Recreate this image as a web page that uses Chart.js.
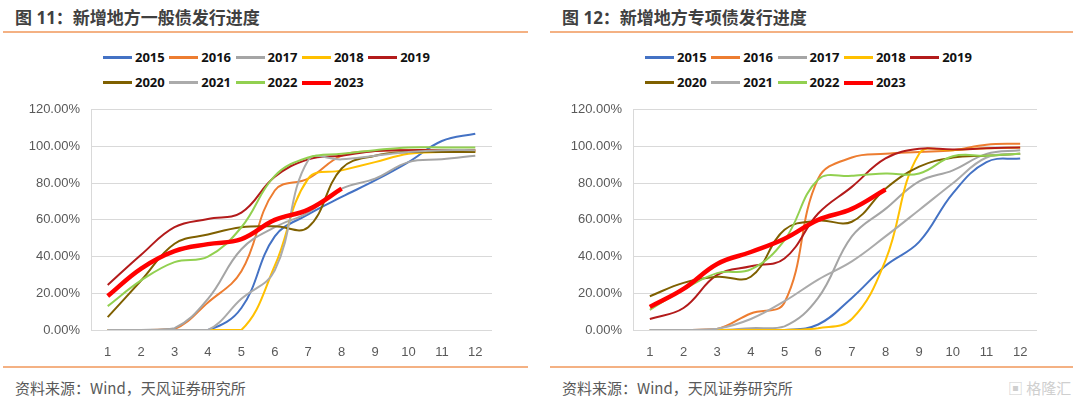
<!DOCTYPE html>
<html>
<head>
<meta charset="utf-8">
<script src="https://cdn.jsdelivr.net/npm/chart.js@4/dist/chart.umd.min.js"></script>
<style>
    body { margin: 0; width: 1080px; height: 399px; background: #fff; position: relative; overflow: hidden; font-family: "Open Sans", "Noto Sans CJK SC", sans-serif; }
    .title { position: absolute; top: 4px; font-size: 17px; font-weight: bold; color: #404040; white-space: nowrap; }
    .rule { position: absolute; height: 2px; background: #F4B183; }
    .src { position: absolute; top: 377px; font-size: 15px; color: #595959; white-space: nowrap; font-family: "Noto Sans CJK SC", sans-serif; }
    .legend { position: absolute; top: 45px; width: 340px; display: flex; flex-wrap: wrap; }
    .legend .item { display: flex; align-items: center; width: 66.3px; height: 25px; }
    .legend .swatch { display: inline-block; width: 29px; margin-right: 3px; }
    .legend .label { font-size: 13px; font-weight: bold; color: #111; line-height: 25px; }
    canvas { position: absolute; }
    .mark { position: absolute; left: 1008px; top: 377px; font-size: 15px; color: #cfcfcf; font-family: "Noto Sans CJK SC", sans-serif; }
</style>
</head>
<body>
<div class="title" style="left:15px">图 11：新增地方一般债发行进度</div>
<div class="title" style="left:562px">图 12：新增地方专项债发行进度</div>
<div class="rule" style="left:3px;width:525px;top:31px"></div>
<div class="rule" style="left:550px;width:523px;top:31px"></div>
<div class="legend" id="legendGen" style="left:103px"></div>
<div class="legend" id="legendSpe" style="left:645px"></div>
<canvas id="chartGen" width="520" height="269" style="left:0;top:91px"></canvas>
<canvas id="chartSpe" width="520" height="269" style="left:540px;top:91px"></canvas>
<div class="rule" style="left:3px;width:525px;top:366px"></div>
<div class="rule" style="left:550px;width:523px;top:366px"></div>
<div class="src" style="left:15px">资料来源：Wind，天风证券研究所</div>
<div class="src" style="left:562px">资料来源：Wind，天风证券研究所</div>
<div class="mark">▣ 格隆汇</div>

<script>
const months = ['1', '2', '3', '4', '5', '6', '7', '8', '9', '10', '11', '12'];
const years = ['2015', '2016', '2017', '2018', '2019', '2020', '2021', '2022', '2023'];
const yTicks = [0, 20, 40, 60, 80, 100, 120];

// 新增一般债 累计发行进度 (%)
const gen2015 = [0, 0, 0, 0, 12, 51, 63, 72.5, 81.5, 91.5, 103, 107];
const gen2016 = [0, 0, 0.5, 15, 32, 76, 82.5, 95, 97.5, 98, 98, 98];
const gen2017 = [0, 0, 1, 17, 44, 56, 64, 77, 82.5, 91.5, 93, 95];
const gen2018 = [0, 0, 0, 0, 0, 35, 82.5, 87, 91.5, 96, 97, 97];
const gen2019 = [24.5, 41, 56, 60.5, 64, 83.5, 93, 95, 97.5, 98, 98, 98];
const gen2020 = [7, 27, 47, 52, 56, 56.5, 56, 88, 95, 97, 97, 97];
const gen2021 = [0, 0, 0, 0, 17, 32.5, 92.5, 93, 95, 97, 98, 98];
const gen2022 = [13, 27, 37, 40, 56, 84, 94, 96, 98, 99.5, 99.5, 99.5];
const gen2023 = [18.5, 33.5, 43, 46.8, 49.5, 60, 65.6, 77];

// 新增专项债 累计发行进度 (%)
const spe2015 = [0, 0, 0, 0, 0, 3, 17.5, 35, 48, 74.5, 91.5, 93.5];
const spe2016 = [0, 0, 0.5, 9, 15, 82.5, 94, 96, 97, 98, 101, 101.5];
const spe2017 = [0, 0, 0, 1, 2, 17.5, 51, 66, 81, 87, 96, 98];
const spe2018 = [0, 0, 0, 0, 0, 1, 6, 38, 96, 98, 99, 99.5];
const spe2019 = [6, 12, 30, 34.7, 39, 63.5, 78, 93.5, 98.8, 98.3, 99, 99.5];
const spe2020 = [18.4, 25.7, 29, 29, 54.6, 59.6, 59, 77, 89, 94, 95, 96];
const spe2021 = [0, 0, 0.7, 6, 15.7, 27.5, 37.4, 51, 65.4, 80, 94, 96];
const spe2022 = [11, 22, 31, 33, 49, 82, 84, 85.3, 85.3, 94.7, 95, 96];
const spe2023 = [12.6, 22.4, 36, 42.5, 49.7, 60, 66, 76.6];

const colors = ['#4472C4', '#ED7D31', '#A5A5A5', '#FFC000', '#B31B1B', '#7F6000', '#ABABAB', '#92D050', '#FF0000'];
const widths = [2, 2, 2, 2, 2, 2, 2, 2, 4.5];

const genSeries = [gen2015, gen2016, gen2017, gen2018, gen2019, gen2020, gen2021, gen2022, gen2023];
const speSeries = [spe2015, spe2016, spe2017, spe2018, spe2019, spe2020, spe2021, spe2022, spe2023];

const buildLegend = (id) => {
    const box = document.getElementById(id);
    years.forEach((y, i) => {
        const item = document.createElement('span');
        item.className = 'item';
        item.innerHTML = `<span class="swatch" style="height:${i === 8 ? 4 : 2.5}px;background:${colors[i]}"></span><span class="label">${y}</span>`;
        box.appendChild(item);
    });
};

const makeChart = (id, series, axisWidth, padRight) => {
    return new Chart(document.getElementById(id), {
        type: 'line',
        data: {
            labels: months,
            datasets: series.map((d, i) => ({
                label: years[i],
                data: d,
                borderColor: colors[i],
                backgroundColor: colors[i],
                borderWidth: widths[i],
                pointRadius: 0,
                tension: 0.4,
                fill: false,
                order: years.length - i
            }))
        },
        options: {
            responsive: false,
            animation: false,
            layout: { padding: { top: 0, right: padRight, bottom: 0, left: 0 } },
            plugins: {
                legend: { display: false },
                tooltip: { enabled: false }
            },
            scales: {
                x: {
                    offset: true,
                    grid: { display: false },
                    border: { display: false },
                    ticks: { color: '#595959', font: { family: 'Liberation Sans', size: 13 }, padding: 7 },
                    afterFit: s => { s.height = 30; }
                },
                y: {
                    min: 0,
                    max: 120,
                    afterBuildTicks: s => { s.ticks = yTicks.map(v => ({ value: v })); },
                    grid: { color: '#D9D9D9', lineWidth: 1, drawTicks: false },
                    border: { display: true, color: '#D9D9D9' },
                    ticks: {
                        color: '#595959',
                        font: { family: 'Liberation Sans', size: 13 },
                        padding: 11,
                        callback: v => v.toFixed(2) + '%'
                    },
                    afterFit: s => { s.width = axisWidth; }
                }
            }
        }
    });
};

buildLegend('legendGen');
buildLegend('legendSpe');
makeChart('chartGen', genSeries, 91, 28);
makeChart('chartSpe', speSeries, 93, 23);
</script>
</body>
</html>
